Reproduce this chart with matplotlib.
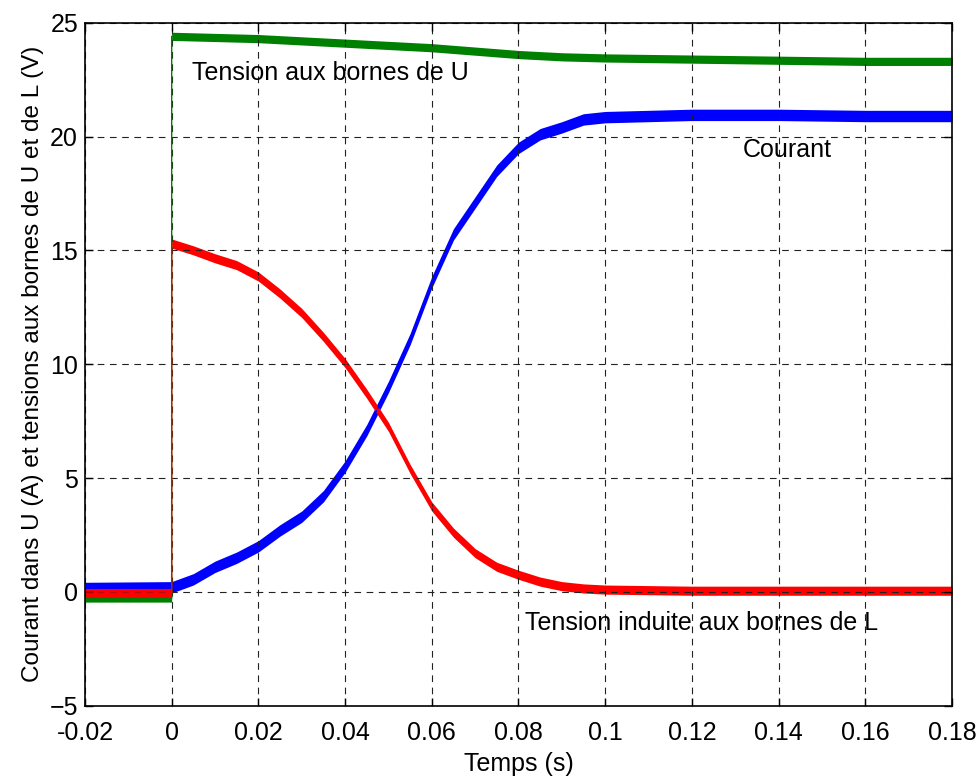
import numpy as np
import matplotlib
matplotlib.use("Agg")
import matplotlib.pyplot as plt

plt.rcParams['font.family'] = ['Liberation Sans', 'DejaVu Sans']

# tension aux bornes de U (V)
t_u = [-0.02, 0, 0, 0.01, 0.02, 0.03, 0.04, 0.05, 0.06, 0.07, 0.08, 0.09, 0.1,
       0.12, 0.14, 0.16, 0.18]
u = [-0.27, -0.27, 24.4, 24.35, 24.3, 24.2, 24.1, 24.0, 23.9, 23.75, 23.6, 23.5,
     23.45, 23.4, 23.35, 23.3, 23.3]

# courant (A)
t_i = [-0.02, 0, 0.005, 0.01, 0.015, 0.02, 0.025, 0.03, 0.035, 0.04, 0.045, 0.05,
       0.055, 0.06, 0.065, 0.07, 0.075, 0.08, 0.085, 0.09, 0.095, 0.1, 0.12, 0.14,
       0.16, 0.18]
i = [0.17, 0.2, 0.55, 1.1, 1.5, 2.0, 2.7, 3.3, 4.2, 5.5, 7.1, 9.0, 11.1, 13.6,
     15.7, 17.1, 18.5, 19.5, 20.1, 20.4, 20.75, 20.85, 20.95, 20.95, 20.9, 20.9]

# tension induite aux bornes de L (V)
t_l = [-0.02, 0, 0, 0.005, 0.01, 0.015, 0.02, 0.025, 0.03, 0.035, 0.04, 0.045,
       0.05, 0.055, 0.06, 0.065, 0.07, 0.075, 0.08, 0.085, 0.09, 0.095, 0.1, 0.12,
       0.14, 0.16, 0.18]
l = [-0.05, -0.05, 15.3, 15.0, 14.65, 14.35, 13.85, 13.1, 12.25, 11.2, 10.05,
     8.7, 7.25, 5.4, 3.75, 2.6, 1.7, 1.1, 0.75, 0.45, 0.25, 0.15, 0.1, 0.05, 0.05,
     0.05, 0.05]

# largeur du bruit de mesure (demi-amplitude)
bruit_u = 0.18
bruit_i = 0.25
bruit_l = 0.2

fig = plt.figure(figsize=(9.79, 7.79), dpi=100)
ax = fig.add_axes([0.0868, 0.0941, 0.8856, 0.8768])

series = [(t_u, u, bruit_u, '#008000'),
          (t_i, i, bruit_i, '#0000ff'),
          (t_l, l, bruit_l, '#ff0000')]
for t, y, b, c in series:
    t = np.array(t)
    y = np.array(y)
    ax.fill_between(t, y - b, y + b, color=c, lw=0)
    ax.plot(t, y, color=c, lw=1.0)

ax.set_xlim(-0.02, 0.18)
ax.set_ylim(-5, 25)
ax.set_xticks(np.arange(-0.02, 0.181, 0.02))
ax.set_xticklabels(['-0.02', '0', '0.02', '0.04', '0.06', '0.08', '0.1',
                    '0.12', '0.14', '0.16', '0.18'])
ax.set_yticks(range(-5, 26, 5))
ax.grid(True, color='#222222', linestyle=(0, (6, 5)), lw=0.8)
ax.tick_params(direction='in', top=True, right=True, length=6, width=1,
               labelsize=18)
ax.tick_params(axis='x', pad=11)
ax.tick_params(axis='y', pad=5)
for s in ax.spines.values():
    s.set_linewidth(1.2)

ax.set_xlabel('Temps (s)', fontsize=18, labelpad=5)
ax.set_ylabel('Courant dans U (A) et tensions aux bornes de U et de L (V)',
              fontsize=17.5, labelpad=4)

ax.text(0.0047, 22.8, 'Tension aux bornes de U', fontsize=18, va='center')
ax.text(0.1318, 19.4, 'Courant', fontsize=18, va='center')
ax.text(0.0816, -1.37, 'Tension induite aux bornes de L', fontsize=18, va='center')

fig.savefig('out.png', dpi=100)
